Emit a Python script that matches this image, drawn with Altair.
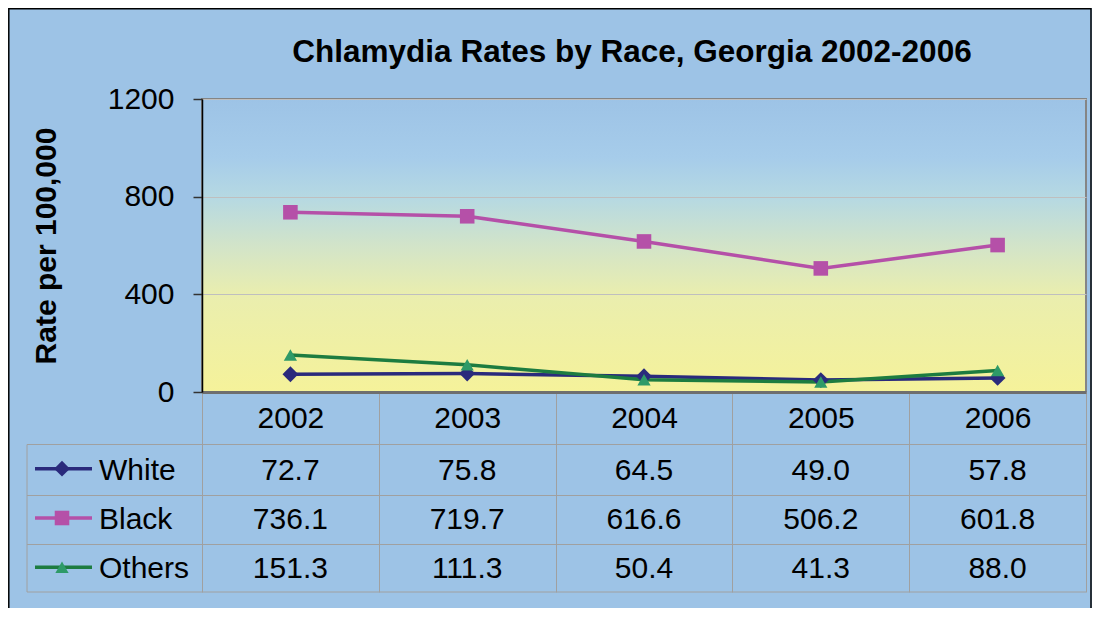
import altair as alt
import pandas as pd

# ---- data ----
years = ["2002", "2003", "2004", "2005", "2006"]
series = ["White", "Black", "Others"]
white = [72.7, 75.8, 64.5, 49.0, 57.8]
black = [736.1, 719.7, 616.6, 506.2, 601.8]
others = [151.3, 111.3, 50.4, 41.3, 88.0]
y_ticks = [0, 400, 800, 1200]

line_colors = ["#2A2A7C", "#B550A8", "#1D7C40"]
marker_fills = ["#2A2A7C", "#B550A8", "#2E9A68"]
shapes = ["diamond", "square", "triangle-up"]
marker_sizes = [250, 175, 380]

rows = []
for s, vals in zip(series, [white, black, others]):
    for yr, v in zip(years, vals):
        rows.append({"year": yr, "series": s, "rate": v})
df = pd.DataFrame(rows)
legend_df = pd.DataFrame({"series": series})

W, H = 884, 293
one = alt.Data(values=[{}])

x_enc = alt.X(
    "year:O",
    scale=alt.Scale(type="band", domain=years, paddingInner=0, paddingOuter=0),
    axis=alt.Axis(
        title=None, labelFontSize=30, labelColor="black", labelAngle=0,
        labelBaseline="middle", labelPadding=-174,
        domainColor="#6E6E6E", domainWidth=3,
        ticks=True, tickBand="extent", tickSize=200, tickColor="#A0A0A0", tickWidth=1,
        grid=False, zindex=1,
    ),
)

y_enc = alt.Y(
    "rate:Q",
    scale=alt.Scale(domain=[0, 1200], nice=False),
    axis=alt.Axis(
        values=y_ticks, format="d", grid=True, gridColor="#BFBFBF", gridWidth=1,
        domainColor="black", domainWidth=1.5,
        tickColor="#333333", tickSize=9, tickWidth=1.5,
        labelFontSize=30, labelColor="black", labelPadding=19,
        title="Rate per 100,000", titleFontSize=30, titleFontWeight="bold",
        titleColor="black", titleX=-156, titleY=H / 2, titleAngle=270,
        titleAlign="center", titleBaseline="middle", zindex=1,
    ),
)

color_enc = alt.Color("series:N", scale=alt.Scale(domain=series, range=line_colors), legend=None)
fill_enc = alt.Fill("series:N", scale=alt.Scale(domain=series, range=marker_fills), legend=None)
shape_enc = alt.Shape("series:N", scale=alt.Scale(domain=series, range=shapes), legend=None)
size_enc = alt.Size("series:N", scale=alt.Scale(domain=series, range=marker_sizes), legend=None)

gradient = {
    "gradient": "linear", "x1": 0, "y1": 0, "x2": 0, "y2": 1,
    "stops": [
        {"offset": 0.0, "color": "#9DC3E6"},
        {"offset": 0.2, "color": "#A6CCEA"},
        {"offset": 0.34, "color": "#B6D9E2"},
        {"offset": 0.5, "color": "#D2E4C9"},
        {"offset": 0.67, "color": "#EAEEAE"},
        {"offset": 1.0, "color": "#F5F29A"},
    ],
}

bg = alt.Chart(one).mark_rect(color=gradient).encode(
    x=alt.value(0), x2=alt.value(W), y=alt.value(0), y2=alt.value(H)
)
frame = alt.Chart(one).mark_rect(fillOpacity=0, stroke="#858585", strokeWidth=2).encode(
    x=alt.value(0), x2=alt.value(W), y=alt.value(0), y2=alt.value(H)
)
lines = alt.Chart(df).mark_line(strokeWidth=3.5).encode(
    x=x_enc, y=y_enc, color=color_enc, detail="series:N"
)
points = alt.Chart(df).mark_point(filled=True, opacity=1, strokeWidth=0).encode(
    x=x_enc, y=y_enc, fill=fill_enc, shape=shape_enc, size=size_enc
)
plot = alt.layer(bg, frame, lines, points)

row_scale = alt.Scale(type="point", domain=series, range=[345, 493], padding=0.5)
row_y = alt.Y("series:N", scale=row_scale, axis=None)

table_text = alt.Chart(df).mark_text(fontSize=30, color="black", dy=2).encode(
    x=x_enc, y=row_y, text=alt.Text("rate:Q", format=".1f")
)
legend_text = alt.Chart(legend_df).mark_text(fontSize=30, color="black", align="left", dy=2).encode(
    x=alt.value(-103), y=row_y, text="series:N"
)
legend_rules = alt.Chart(legend_df).mark_rule(strokeWidth=3.5).encode(
    x=alt.value(-167), x2=alt.value(-110), y=row_y, color=color_enc
)
legend_points = alt.Chart(legend_df).mark_point(filled=True, opacity=1, strokeWidth=0).encode(
    x=alt.value(-140), y=row_y, fill=fill_enc, shape=shape_enc, size=size_enc
)

grid_color = "#A0A0A0"
hlines = [
    alt.Chart(one).mark_rule(color=grid_color, strokeWidth=1).encode(
        x=alt.value(-175), x2=alt.value(W), y=alt.value(v)
    )
    for v in [345.5, 396.5, 445.5, 493]
]
vline = alt.Chart(one).mark_rule(color=grid_color, strokeWidth=1).encode(
    x=alt.value(-175), y=alt.value(345.5), y2=alt.value(493)
)
border = alt.Chart(one).mark_rect(fillOpacity=0, stroke="black", strokeWidth=1.5).encode(
    x=alt.value(-193.2), x2=alt.value(W + 5), y=alt.value(-90.2), y2=alt.value(H + 300)
)

chart = alt.layer(
    plot, *hlines, vline, table_text, legend_text, legend_rules, legend_points, border
).resolve_scale(y="independent").properties(
    width=W, height=H,
    autosize="none",
    padding={"left": 194, "top": 91, "right": 6, "bottom": 216},
    background="#9DC3E6",
    title=alt.TitleParams(
        text="Chlamydia Rates by Race, Georgia 2002-2006",
        fontSize=31.5, fontWeight="bold", color="black",
        anchor="middle", dx=-12, offset=-60,
    ),
).configure(font="Liberation Sans").configure_view(strokeWidth=0)

chart.save("out.html", embed_options={"renderer": "svg", "actions": False})
